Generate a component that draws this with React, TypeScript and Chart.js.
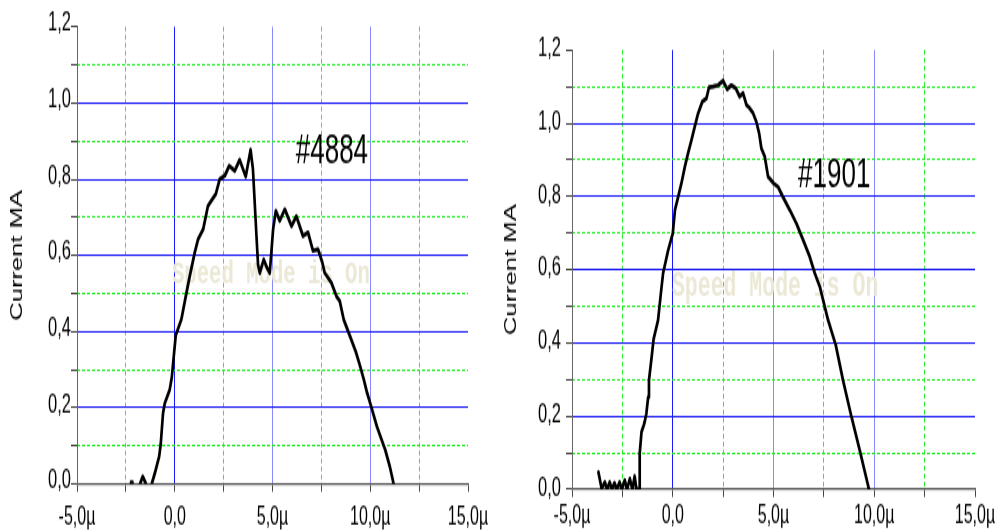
import React, { useEffect, useRef } from 'react';
import { Chart, registerables } from 'chart.js';

Chart.register(...registerables);

// ---------------- data ----------------
const X_MIN = -5;
const X_MAX = 15;
const X_STEP = 2.5;
const Y_MIN = 0;
const Y_MAX = 1.2;
const Y_STEP = 0.1;

const yTitle = 'Current MA';
const watermarkText = 'Speed Mode is On';
const leftLabel = '#4884';
const rightLabel = '#1901';

// #4884 trace (null = gap in the trace)
const leftX = [
  -2.24, -2.16, -2.0, -1.78, -1.64, -1.47, -1.3, -1.18, -1.02, -0.8,
  -0.72, -0.6, -0.51, -0.26, -0.15, 0.05, 0.34, 0.6, 0.77, 1.02,
  1.19, 1.45, 1.7, 1.87, 2.1, 2.3, 2.56, 2.78, 3.07, 3.32,
  3.63, 3.88, 4.0, 4.09, 4.18, 4.26, 4.35, 4.55, 4.72, 4.86,
  4.94, 5.03, 5.17, 5.37, 5.63, 5.97, 6.22, 6.56, 6.82, 7.07,
  7.33, 7.55, 7.67, 8.01, 8.27, 8.44, 8.64, 8.95, 9.26, 9.46,
  9.67, 9.84, 10.05, 10.34, 10.77, 11.0, 11.2,
];
const leftY = [
  0.004, 0.004, null, 0, 0.02, 0, null, 0, 0.028, 0.072,
  0.103, 0.186, 0.212, 0.247, 0.28, 0.39, 0.432, 0.502, 0.546, 0.607,
  0.642, 0.668, 0.73, 0.743, 0.761, 0.8, 0.809, 0.835, 0.822, 0.851,
  0.807, 0.877, 0.826, 0.739, 0.651, 0.576, 0.554, 0.589, 0.567, 0.554,
  0.607, 0.668, 0.717, 0.691, 0.721, 0.677, 0.703, 0.651, 0.66, 0.612,
  0.616, 0.581, 0.554, 0.528, 0.493, 0.48, 0.432, 0.39, 0.347, 0.313,
  0.274, 0.239, 0.203, 0.151, 0.089, 0.046, 0,
];

// #1901 trace
const rightX = [
  -3.69, -3.53, -3.37, -3.26, -3.13, -3.02, -2.89, -2.78, -2.64, -2.53,
  -2.38, -2.27, -2.13, -2.0, -1.89, -1.8, -1.67, -1.64, -1.55, -1.44,
  -1.39, -1.31, -1.22, -1.18, -1.05, -0.95, -0.73, -0.6, -0.48, -0.23,
  0.0, 0.11, 0.27, 0.43, 0.6, 0.76, 0.93, 1.09, 1.26, 1.47,
  1.67, 1.8, 2.0, 2.25, 2.5, 2.7, 2.91, 3.13, 3.32, 3.49,
  3.66, 3.82, 3.99, 4.15, 4.29, 4.4, 4.57, 4.73, 5.01, 5.23,
  5.47, 5.81, 6.14, 6.47, 6.8, 7.05, 7.3, 7.46, 7.71, 8.09,
  8.45, 8.87, 9.28, 9.74,
];
const rightY = [
  0.047, 0.002, 0.02, 0, 0.02, 0, 0.018, 0, 0.02, 0,
  0.025, 0, 0.029, 0, 0.036, 0, 0, 0.098, 0.157, 0.175,
  0.185, 0.207, 0.252, 0.298, 0.36, 0.41, 0.462, 0.53, 0.59, 0.653,
  0.699, 0.763, 0.799, 0.836, 0.881, 0.918, 0.954, 0.99, 1.027, 1.059,
  1.068, 1.098, 1.1, 1.104, 1.116, 1.093, 1.104, 1.095, 1.073, 1.082,
  1.05, 1.041, 1.027, 1.004, 0.972, 0.931, 0.908, 0.854, 0.836, 0.826,
  0.799, 0.763, 0.726, 0.681, 0.635, 0.59, 0.553, 0.517, 0.462, 0.394,
  0.298, 0.198, 0.107, 0,
];

// annotation anchors in data units
const leftLabelAt = [6.19, 0.874];
const rightLabelAt = [6.22, 0.856];
const leftMarkAt = [-0.14, 0.55];
const rightMarkAt = [-0.04, 0.55];

// ---------------- layout ----------------
const H = 332; // internal canvas height; stretched vertically to 531
const S = 531 / H;
const FONT = "'Liberation Sans', Arial, sans-serif";
const BLUE = '#1c1cf5';
const BLUE_DARK = '#1a1aff';
const BLUE_LIGHT = '#8a8aff';
const GREEN = '#22ee22';

type Panel = {
  xs: number[];
  ys: (number | null)[];
  label: string;
  labelAt: number[];
  markAt: number[];
  markSize: number;
  width: number;
  padTop: number;
  padRight: number;
  xAxisH: number;
  xPad: number;
  yPad: number;
  yLabelOffset: number;
  titlePad: number;
};

function buildConfig(p: Panel): any {
  const textPlugin = {
    id: 'panelTexts',
    beforeDatasetsDraw(chart: any) {
      const { ctx, scales } = chart;
      ctx.save();
      ctx.font = `bold ${p.markSize}px 'Liberation Mono', monospace`;
      ctx.fillStyle = '#ebe8d6';
      ctx.textAlign = 'left';
      ctx.textBaseline = 'middle';
      ctx.fillText(
        watermarkText,
        scales.x.getPixelForValue(p.markAt[0]),
        scales.y.getPixelForValue(p.markAt[1])
      );
      ctx.restore();
    },
    afterDatasetsDraw(chart: any) {
      const { ctx, scales } = chart;
      ctx.save();
      ctx.font = `26px ${FONT}`;
      ctx.fillStyle = '#000';
      ctx.textAlign = 'left';
      ctx.textBaseline = 'middle';
      ctx.fillText(
        p.label,
        scales.x.getPixelForValue(p.labelAt[0]),
        scales.y.getPixelForValue(p.labelAt[1])
      );
      ctx.restore();
    },
  };

  const xk = (v: number) => Math.round(v / X_STEP);
  const yk = (v: number) => Math.round(v / Y_STEP);

  return {
    type: 'line',
    data: {
      datasets: [
        {
          data: p.xs.map((x, i) => ({ x, y: p.ys[i] })),
          borderColor: '#000',
          borderWidth: 2.7,
          pointRadius: 0,
          tension: 0,
          spanGaps: false,
          fill: false,
          borderJoinStyle: 'round',
          borderCapStyle: 'round',
        },
      ],
    },
    options: {
      animation: false,
      responsive: false,
      devicePixelRatio: 1,
      events: [],
      layout: { padding: { left: 0, top: p.padTop, right: p.padRight, bottom: 0 } },
      plugins: {
        legend: { display: false },
        tooltip: { enabled: false },
        title: { display: false },
      },
      scales: {
        x: {
          type: 'linear',
          position: 'bottom',
          min: X_MIN,
          max: X_MAX,
          afterFit: (s: any) => {
            s.height = p.xAxisH;
            s.paddingLeft = 0;
            s.paddingRight = 0;
          },
          ticks: {
            stepSize: X_STEP,
            autoSkip: false,
            maxTicksLimit: 30,
            maxRotation: 0,
            minRotation: 0,
            padding: p.xPad,
            color: '#000',
            font: { family: FONT, size: 16 },
            callback: (v: number) => {
              const k = xk(v);
              if (k % 2 !== 0) return '';
              if (k === 0) return '0,0';
              return (k * X_STEP).toFixed(1).replace('.', ',') + 'µ';
            },
          },
          grid: {
            lineWidth: 1,
            tickLength: 4.8,
            tickColor: '#444',
            tickWidth: 1,
            color: (c: any) => {
              const k = xk(c.tick.value);
              if (k === 0) return BLUE_DARK;
              if (k === 2 || k === 4) return BLUE_LIGHT;
              return 'rgba(0,0,0,0)';
            },
          },
          border: { display: true, color: '#555', width: 1.3 },
        },
        x2: {
          type: 'linear',
          position: 'bottom',
          min: X_MIN,
          max: X_MAX,
          afterFit: (s: any) => {
            s.height = 0;
            s.paddingLeft = 0;
            s.paddingRight = 0;
          },
          ticks: { display: false, stepSize: X_STEP, autoSkip: false, maxTicksLimit: 30 },
          grid: {
            drawTicks: false,
            lineWidth: 1,
            color: (c: any) => (Math.abs(xk(c.tick.value)) % 2 === 1 ? GREEN : 'rgba(0,0,0,0)'),
          },
          border: { display: false, dash: [3, 2] },
        },
        y: {
          type: 'linear',
          position: 'left',
          min: Y_MIN,
          max: Y_MAX,
          afterFit: (s: any) => {
            s.width = 77;
            s.paddingTop = 0;
            s.paddingBottom = 0;
          },
          title: {
            display: true,
            text: yTitle,
            color: '#000',
            font: { family: FONT, size: 16 },
            padding: { top: p.titlePad, bottom: 0 },
          },
          ticks: {
            stepSize: Y_STEP,
            autoSkip: false,
            maxTicksLimit: 30,
            padding: p.yPad,
            labelOffset: p.yLabelOffset,
            color: '#000',
            font: { family: FONT, size: 16.5 },
            callback: (v: number) => {
              const k = yk(v);
              if (k % 2 !== 0) return '';
              return (k * Y_STEP).toFixed(1).replace('.', ',');
            },
          },
          grid: {
            lineWidth: 1,
            tickLength: 6,
            tickColor: '#444',
            tickWidth: 1,
            color: (c: any) => {
              const k = yk(c.tick.value);
              if (k % 2 === 0 && k > 0 && k < 12) return BLUE;
              return 'rgba(0,0,0,0)';
            },
          },
          border: { display: true, color: '#666', width: 1 },
        },
        y2: {
          type: 'linear',
          position: 'left',
          min: Y_MIN,
          max: Y_MAX,
          afterFit: (s: any) => {
            s.width = 0;
            s.paddingTop = 0;
            s.paddingBottom = 0;
          },
          ticks: { display: false, stepSize: Y_STEP, autoSkip: false, maxTicksLimit: 30 },
          grid: {
            drawTicks: false,
            lineWidth: 1,
            color: (c: any) => (yk(c.tick.value) % 2 === 1 ? GREEN : 'rgba(0,0,0,0)'),
          },
          border: { display: false, dash: [3, 2] },
        },
      },
    },
    plugins: [textPlugin],
  };
}

const leftPanel: Panel = {
  xs: leftX,
  ys: leftY,
  label: leftLabel,
  labelAt: leftLabelAt,
  markAt: leftMarkAt,
  markSize: 20.6,
  width: 495,
  padTop: 26.7 / S,
  padRight: 27,
  xAxisH: H - 484 / S,
  xPad: 6.4,
  yPad: 0,
  yLabelOffset: -1.9,
  titlePad: 8.4,
};

const rightPanel: Panel = {
  xs: rightX,
  ys: rightY,
  label: rightLabel,
  labelAt: rightLabelAt,
  markAt: rightMarkAt,
  markSize: 21.5,
  width: 505,
  padTop: 50 / S,
  padRight: 25,
  xAxisH: H - 489.3 / S,
  xPad: 2.6,
  yPad: 5,
  yLabelOffset: -0.75,
  titlePad: 7.4,
};

function ChartPanel({ panel, left }: { panel: Panel; left: number }) {
  const ref = useRef<HTMLCanvasElement | null>(null);
  useEffect(() => {
    if (!ref.current) return;
    const chart = new Chart(ref.current, buildConfig(panel));
    return () => chart.destroy();
  }, [panel]);
  return (
    <div
      style={{
        position: 'absolute',
        left,
        top: 0,
        width: panel.width,
        height: H,
        transform: `scaleY(${S})`,
        transformOrigin: '0 0',
      }}
    >
      <canvas
        ref={ref}
        width={panel.width}
        height={H}
        style={{ display: 'block', width: `${panel.width}px`, height: `${H}px` }}
      />
    </div>
  );
}

export default function App() {
  return (
    <div
      style={{
        position: 'fixed',
        left: 0,
        top: 0,
        width: 1000,
        height: 531,
        background: '#fff',
        overflow: 'hidden',
      }}
    >
      <ChartPanel panel={leftPanel} left={0} />
      <ChartPanel panel={rightPanel} left={495} />
    </div>
  );
}
